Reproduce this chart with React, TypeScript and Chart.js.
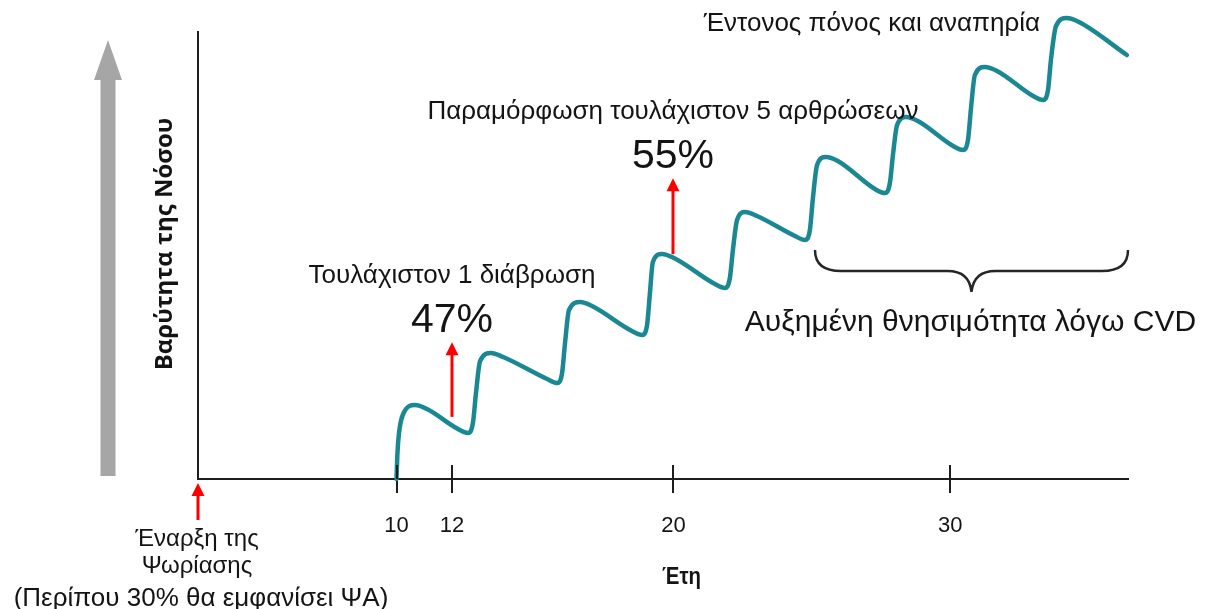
import React, { useEffect, useRef } from 'react';
import { Chart, registerables } from 'chart.js';

Chart.register(...registerables);

// Disease course (years since psoriasis onset, schematic severity)
const years = [
  10.0, 10.03, 10.09, 10.24, 10.67, 11.1, 12.22,
  12.58, 12.76, 12.87, 13.02, 13.41, 13.85, 15.44,
  15.8, 15.98, 16.09, 16.23, 16.63, 17.06, 18.5,
  18.87, 19.05, 19.15, 19.26, 19.59, 20.02, 21.5,
  21.86, 22.04, 22.15, 22.3, 22.59, 23.02, 24.39,
  24.75, 24.93, 25.04, 25.19, 25.51, 25.94, 27.28,
  27.64, 27.82, 27.93, 28.08, 28.4, 28.83, 30.1,
  30.46, 30.64, 30.75, 30.89, 31.25, 31.69, 32.99,
  33.35, 33.53, 33.64, 33.82, 34.21, 34.65, 36.38,
];
const severity = [
  0, 5.37, 10.29, 14.54, 16.55, 15.66, 11.19,
  10.29, 12.53, 19.24, 26.4, 28.19, 27.29, 22.37,
  21.48, 23.71, 30.65, 37.81, 39.6, 38.7, 33.11,
  32.21, 34.45, 41.39, 48.55, 50.34, 49.44, 43.62,
  42.73, 44.97, 51.23, 57.94, 59.73, 58.84, 54.36,
  53.47, 55.7, 62.86, 70.25, 72.04, 71.14, 64.88,
  63.98, 66.22, 72.48, 79.19, 80.98, 80.09, 74.5,
  73.6, 75.84, 83.0, 90.38, 92.17, 91.28, 85.68,
  84.79, 87.02, 93.96, 101.34, 103.13, 102.24, 94.85,
];

const tickYears = [10, 12, 20, 30];
const tickLabels = ['10', '12', '20', '30'];

const milestoneYears = [12, 20];
const milestoneLabels = ['Τουλάχιστον 1 διάβρωση', 'Παραμόρφωση τουλάχιστον 5 αρθρώσεων'];
const milestonePercents = ['47%', '55%'];
const milestoneArrowFrom = [13.9, 50.3];
const milestoneArrowTo = [30.6, 67.3];

const topLabel = 'Έντονος πόνος και αναπηρία';
const cvdLabel = 'Αυξημένη θνησιμότητα λόγω CVD';
const onsetLines = ['Έναρξη της', 'Ψωρίασης', '(Περίπου 30% θα εμφανίσει ΨΑ)'];
const xTitle = 'Έτη';
const yTitle = 'Βαρύτητα της Νόσου';

const TEAL = '#1a8893';
const AXIS = '#1e1e1e';
const TEXT = '#141414';
const RED = '#ff0000';
const GRAY = '#a6a6a6';
const SANS = '"Liberation Sans", Arial, sans-serif';

function redArrow(ctx: CanvasRenderingContext2D, x: number, yFrom: number, yTip: number) {
  ctx.save();
  ctx.strokeStyle = RED;
  ctx.fillStyle = RED;
  ctx.lineWidth = 3;
  ctx.beginPath();
  ctx.moveTo(x, yFrom);
  ctx.lineTo(x, yTip + 10);
  ctx.stroke();
  ctx.beginPath();
  ctx.moveTo(x, yTip);
  ctx.lineTo(x + 6.5, yTip + 13);
  ctx.lineTo(x - 6.5, yTip + 13);
  ctx.closePath();
  ctx.fill();
  ctx.restore();
}

const overlay = {
  id: 'overlay',
  afterDraw(chart: any) {
    const ctx: CanvasRenderingContext2D = chart.ctx;
    const { left, right, top, bottom } = chart.chartArea;
    const xs = chart.scales.x;
    const ys = chart.scales.y;
    ctx.save();

    // tick marks crossing the axis (upper half)
    ctx.strokeStyle = AXIS;
    ctx.lineWidth = 2;
    tickYears.forEach((v) => {
      const px = Math.round(xs.getPixelForValue(v));
      ctx.beginPath();
      ctx.moveTo(px, bottom);
      ctx.lineTo(px, bottom - 14);
      ctx.stroke();
    });

    // big gray severity arrow
    const gx = left - 90;
    ctx.fillStyle = GRAY;
    ctx.beginPath();
    ctx.moveTo(gx, top + 8);
    ctx.lineTo(gx + 14, top + 48);
    ctx.lineTo(gx + 7.5, top + 48);
    ctx.lineTo(gx + 7.5, bottom - 3);
    ctx.lineTo(gx - 7.5, bottom - 3);
    ctx.lineTo(gx - 7.5, top + 48);
    ctx.lineTo(gx - 14, top + 48);
    ctx.closePath();
    ctx.fill();

    // y title (rotated)
    ctx.save();
    ctx.translate(left - 33, top + 212);
    ctx.rotate(-Math.PI / 2);
    ctx.fillStyle = TEXT;
    ctx.textAlign = 'center';
    ctx.textBaseline = 'middle';
    ctx.font = 'bold 24px "Open Sans", "Noto Sans", sans-serif';
    ctx.fillText(yTitle, 0, 0);
    ctx.restore();

    // milestones
    ctx.textAlign = 'center';
    ctx.textBaseline = 'alphabetic';
    milestoneYears.forEach((yr, i) => {
      const x = Math.round(xs.getPixelForValue(yr));
      const yFrom = ys.getPixelForValue(milestoneArrowFrom[i]);
      const yTip = ys.getPixelForValue(milestoneArrowTo[i]);
      redArrow(ctx, x, yFrom, yTip);
      ctx.fillStyle = TEXT;
      ctx.font = '41px ' + SANS;
      ctx.fillText(milestonePercents[i], x, yTip - 10);
      ctx.font = '26px ' + SANS;
      ctx.fillText(milestoneLabels[i], x, yTip - 59);
    });

    // top label
    ctx.fillStyle = TEXT;
    ctx.font = '26px ' + SANS;
    ctx.textAlign = 'right';
    ctx.fillText(topLabel, right - 88, top - 1);

    // brace + CVD label
    const bl = left + 617, br = right, bt = top + 218, bh = top + 239, bm = (bl + br) / 2, bp = top + 260;
    ctx.strokeStyle = '#262626';
    ctx.lineWidth = 2.5;
    ctx.beginPath();
    ctx.moveTo(bl, bt);
    ctx.quadraticCurveTo(bl, bh, bl + 26, bh);
    ctx.lineTo(bm - 24, bh);
    ctx.quadraticCurveTo(bm - 2, bh, bm, bp);
    ctx.quadraticCurveTo(bm + 2, bh, bm + 24, bh);
    ctx.lineTo(br - 26, bh);
    ctx.quadraticCurveTo(br, bh, br, bt);
    ctx.stroke();
    ctx.fillStyle = TEXT;
    ctx.textAlign = 'center';
    ctx.font = '30px ' + SANS;
    ctx.fillText(cvdLabel, bm - 1, top + 299);

    // onset arrow and text
    redArrow(ctx, left, bottom + 41, bottom + 4);
    ctx.fillStyle = TEXT;
    ctx.font = '24px ' + SANS;
    ctx.fillText(onsetLines[0], left - 1, bottom + 67);
    ctx.fillText(onsetLines[1], left - 1, bottom + 94);
    ctx.font = '26px ' + SANS;
    ctx.fillText(onsetLines[2], left + 3, bottom + 127);

    // x title (condensed bold)
    ctx.save();
    ctx.translate(left + 0.52 * (right - left), bottom + 105);
    ctx.scale(0.85, 1);
    ctx.font = 'bold 24px ' + SANS;
    ctx.fillText(xTitle, 0, 0);
    ctx.restore();

    ctx.restore();
  },
};

export default function App() {
  const ref = useRef<HTMLCanvasElement>(null);
  useEffect(() => {
    document.body.style.margin = '0';
    const canvas = ref.current!;
    const chart = new Chart(canvas, {
      type: 'line',
      data: {
        datasets: [
          {
            data: years.map((x, i) => ({ x, y: severity[i] })),
            borderColor: TEAL,
            borderWidth: 4.5,
            pointRadius: 0,
            cubicInterpolationMode: 'monotone',
            clip: false,
            fill: false,
            borderCapStyle: 'round',
            borderJoinStyle: 'round',
          } as any,
        ],
      },
      options: {
        animation: false,
        responsive: true,
        maintainAspectRatio: false,
        layout: { padding: { left: 198, top: 32, right: 77, bottom: 49.6 } },
        plugins: { legend: { display: false }, tooltip: { enabled: false } },
        scales: {
          x: {
            type: 'linear',
            min: 2.83,
            max: 36.42,
            afterBuildTicks: (s: any) => {
              s.ticks = tickYears.map((v) => ({ value: v }));
            },
            ticks: {
              callback: (_v: any, i: number) => tickLabels[i],
              font: { family: SANS, size: 22 },
              color: TEXT,
              padding: 20,
              maxRotation: 0,
              autoSkip: false,
            },
            grid: { display: true, drawOnChartArea: false, drawTicks: true, tickLength: 14, color: AXIS, lineWidth: 2 },
            border: { display: true, color: AXIS, width: 2 },
          },
          y: {
            type: 'linear',
            min: 0,
            max: 100,
            ticks: { display: false },
            grid: { display: false, drawTicks: false },
            border: { display: true, color: AXIS, width: 2 },
          },
        },
      } as any,
      plugins: [overlay],
    });
    return () => chart.destroy();
  }, []);
  return (
    <div style={{ width: 1205, height: 609, position: 'relative' }}>
      <canvas ref={ref} />
    </div>
  );
}
